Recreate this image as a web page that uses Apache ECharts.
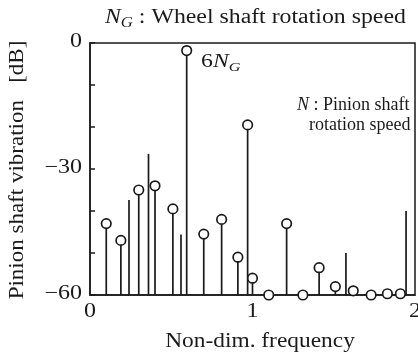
<!DOCTYPE html>
<html><head><meta charset="utf-8">
<script src="https://cdn.jsdelivr.net/npm/echarts@6/dist/echarts.min.js"></script>
<style>html,body{margin:0;padding:0;background:#fff}#c{width:418px;height:359px}</style>
</head><body><div id="c"></div>
<script>
// Circled stems
const circFreq = [0.10, 0.19, 0.30, 0.40, 0.51, 0.595, 0.70, 0.81, 0.91, 0.97, 1.00, 1.10, 1.21, 1.31, 1.41, 1.51, 1.62, 1.73, 1.83, 1.91];
const circLevel = [-43, -47, -35, -34, -39.5, -1.8, -45.5, -42, -51, -19.5, -56, -60, -43, -60, -53.5, -58, -59, -60, -59.7, -59.7];
// Plain stems (no marker)
const lineFreq = [0.24, 0.36, 0.56, 1.575, 1.945];
const lineLevel = [-37.4, -26.4, -45.6, -50, -40];
const xTicks = [0, 1, 2];
const yTicks = [-60, -30, 0];

const FONT = 'Liberation Serif';
const INK = '#1a1a1a';
const allStems = circFreq.map((f, i) => [f, circLevel[i]]).concat(lineFreq.map((f, i) => [f, lineLevel[i]]));

const chart = echarts.init(document.getElementById('c'), null, {renderer: 'canvas'});
chart.setOption({
  animation: false,
  grid: {left: 90, right: 3, top: 43, bottom: 64, outerBoundsMode: 'none', containLabel: false,
    show: true, borderColor: INK, borderWidth: 1.5, backgroundColor: 'transparent'},
  xAxis: {
    type: 'value', min: xTicks[0], max: xTicks[xTicks.length - 1], interval: 1,
    axisLine: {show: true, onZero: false, lineStyle: {color: INK, width: 1.5}},
    axisTick: {show: false},
    splitLine: {show: false},
    axisLabel: {show: false}
  },
  yAxis: {
    type: 'value', min: yTicks[0], max: yTicks[yTicks.length - 1], interval: 30,
    axisLine: {show: true, onZero: false, lineStyle: {color: INK, width: 1.5}},
    axisTick: {show: true, inside: true, length: 5, lineStyle: {color: INK, width: 1.5}},
    minorTick: {show: true, splitNumber: 3, length: 5, lineStyle: {color: INK, width: 1.5}},
    splitLine: {show: false},
    axisLabel: {show: false}
  },
  series: [
    {
      type: 'custom', clip: false, z: 2,
      data: allStems,
      renderItem: (params, api) => {
        const p0 = api.coord([api.value(0), -60]);
        const p1 = api.coord([api.value(0), api.value(1)]);
        return {type: 'line', shape: {x1: p0[0], y1: p0[1], x2: p1[0], y2: p1[1]},
          style: {stroke: INK, lineWidth: 1.7}};
      }
    },
    {
      type: 'scatter', clip: false, z: 3,
      data: circFreq.map((f, i) => [f, circLevel[i]]),
      symbol: 'circle', symbolSize: 9.5,
      itemStyle: {color: '#fff', borderColor: INK, borderWidth: 1.7, opacity: 1}
    }
  ]
});

const fmt = v => v < 0 ? '\u2212' + Math.abs(v) : String(v);
const SX = 1.2;
const g = [];
yTicks.forEach(v => {
  const p = chart.convertToPixel({gridIndex: 0}, [0, v]);
  g.push({type: 'text', x: p[0] - 8, y: p[1] - 1, scaleX: SX, style: {
    text: fmt(v), fontFamily: FONT, fontSize: 20, fill: INK, align: 'right', verticalAlign: 'middle'}});
});
xTicks.forEach(v => {
  const p = chart.convertToPixel({gridIndex: 0}, [v, -60]);
  g.push({type: 'text', x: p[0], y: p[1] + 17, scaleX: SX, style: {
    text: fmt(v), fontFamily: FONT, fontSize: 20, fill: INK, align: 'center', verticalAlign: 'middle'}});
});
g.push(
  {type: 'text', x: 105, y: 6, scaleX: 1.19, style: {
    rich: {
      i: {fontFamily: FONT, fontStyle: 'italic', fontSize: 20, fill: INK, lineHeight: 24},
      s: {fontFamily: FONT, fontStyle: 'italic', fontSize: 14, fill: INK, lineHeight: 24, verticalAlign: 'bottom'},
      r: {fontFamily: FONT, fontSize: 20, fill: INK, lineHeight: 24}
    },
    text: '{i|N}{s|G}{r| : Wheel shaft rotation speed}'
  }},
  {type: 'text', x: 201, y: 50, scaleX: 1.25, style: {
    rich: {
      r: {fontFamily: FONT, fontSize: 19, fill: INK, lineHeight: 24},
      i: {fontFamily: FONT, fontStyle: 'italic', fontSize: 19, fill: INK, lineHeight: 24},
      s: {fontFamily: FONT, fontStyle: 'italic', fontSize: 13, fill: INK, lineHeight: 24, verticalAlign: 'bottom'}
    },
    text: '{r|6}{i|N}{s|G}'
  }},
  {type: 'text', x: 297, y: 95, style: {
    rich: {
      i: {fontFamily: FONT, fontStyle: 'italic', fontSize: 18, fill: INK, lineHeight: 20},
      r: {fontFamily: FONT, fontSize: 18, fill: INK, lineHeight: 20}
    },
    text: '{i|N}{r| : Pinion shaft}'
  }},
  {type: 'text', x: 309, y: 116, style: {
    text: 'rotation speed', fontFamily: FONT, fontSize: 18, fill: INK
  }},
  {type: 'text', x: 260, y: 342, scaleX: 1.17, style: {
    text: 'Non-dim. frequency', fontFamily: FONT, fontSize: 20, fill: INK, align: 'center', verticalAlign: 'middle'
  }},
  {type: 'text', x: 18, y: 170, rotation: Math.PI / 2, scaleX: 1.15, style: {
    text: 'Pinion shaft vibration   [dB]', fontFamily: FONT, fontSize: 20, fill: INK, align: 'center', verticalAlign: 'middle'
  }}
);
chart.setOption({graphic: g});
</script></body></html>
